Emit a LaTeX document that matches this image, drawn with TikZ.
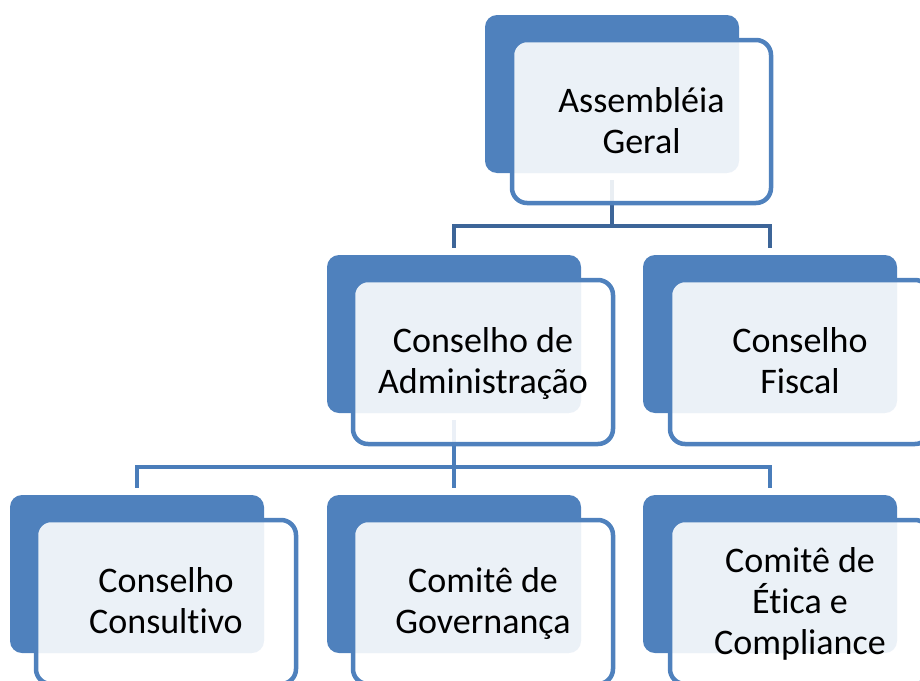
\documentclass[tikz,border=0pt]{standalone}
\usepackage{fontspec}
\setmainfont{Carlito}[Ligatures=NoCommon]
\definecolor{darkbox}{HTML}{4F81BD}
\definecolor{lineA}{HTML}{3D6598}
\definecolor{lineB}{HTML}{4A7DBA}
\tikzset{
  backbox/.style={fill=darkbox, draw=none, rounded corners=12pt},
  frontbox/.style={fill=white, fill opacity=0.89, draw=darkbox, line width=4.5pt, rounded corners=15pt},
  label/.style={align=center, inner sep=0pt, text=black, font=\fontsize{36}{41}\selectfont},
  connA/.style={draw=lineA, line width=4.5pt},
  connB/.style={draw=lineB, line width=4.5pt},
}
\newcommand{\topstrut}{\rule{0pt}{32pt}}
\newcommand{\botstrut}{\rule[-10pt]{0pt}{10pt}}
\begin{document}
\begin{tikzpicture}[x=1pt,y=-1pt]
\useasboundingbox (0,0) rectangle (920,680);
\clip (0,0) rectangle (920,680);
% background boxes
\node[backbox, minimum width=254pt, minimum height=158pt] (b1) at (612,94) {};
\node[backbox, minimum width=254pt, minimum height=158pt] (b2) at (454,334) {};
\node[backbox, minimum width=254pt, minimum height=158pt] (b3) at (770,334) {};
\node[backbox, minimum width=254pt, minimum height=158pt] (b4) at (137,574) {};
\node[backbox, minimum width=254pt, minimum height=158pt] (b5) at (454,574) {};
\node[backbox, minimum width=254pt, minimum height=158pt] (b6) at (770,574) {};
% connectors
\coordinate (j1) at (612,226);
\coordinate (j2) at (454,467);
\draw[connA, shorten <=7pt] (b1.south) -- (j1);
\draw[connA, shorten >=7pt] (j1) -| (b2.north);
\draw[connA, shorten >=7pt] (j1) -| (b3.north);
\draw[connB, shorten <=7pt] (b2.south) -- (j2);
\draw[connB, shorten >=7pt] (j2) -- (b5.north);
\draw[connB, shorten >=7pt] (j2) -| (b4.north);
\draw[connB, shorten >=7pt] (j2) -| (b6.north);
% front boxes
\draw[frontbox] (512,40) rectangle (771,203);
\draw[frontbox] (353,280) rectangle (613,444);
\draw[frontbox] (670,280) rectangle (930,444);
\draw[frontbox] (36,520) rectangle (296,684);
\draw[frontbox] (353,520) rectangle (613,684);
\draw[frontbox] (670,520) rectangle (930,684);
% labels
\node[label] (t1) at (641.5,121.5) {\topstrut Assembléia\\Geral\botstrut};
\node[label] (t2) at (483,362) {\topstrut Conselho de\\Administração\botstrut};
\node[label] (t3) at (800,362) {\topstrut Conselho\\Fiscal\botstrut};
\node[label] (t4) at (166,602) {\topstrut Conselho\\Consultivo\botstrut};
\node[label] (t5) at (483,602) {\topstrut Comitê de\\Governança\botstrut};
\node[label] (t6) at (800,602) {\topstrut Comitê de\\Ética e\\Compliance\botstrut};
\end{tikzpicture}
\end{document}
